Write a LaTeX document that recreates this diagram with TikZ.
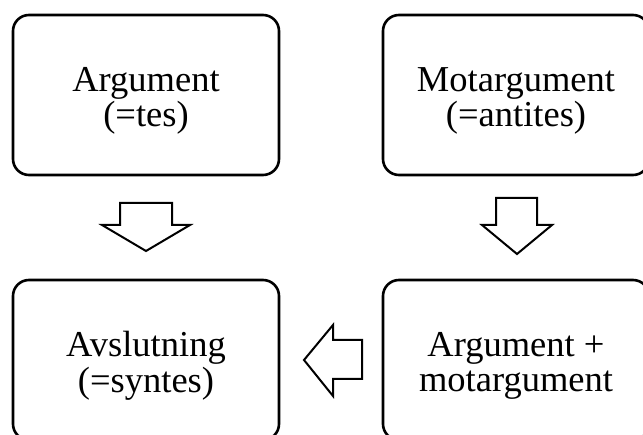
\documentclass[tikz,border=0pt]{standalone}
\usepackage{fontspec}
\setmainfont{Liberation Serif}
\begin{document}
\begin{tikzpicture}[x=1pt,y=-1pt,
  stepbox/.style={draw=black, line width=2.6pt, rounded corners=16pt,
    minimum width=266pt, minimum height=160pt, inner sep=0pt},
  boxtext/.style={align=center, inner sep=0pt,
    font=\fontsize{36.5}{35.5}\selectfont},
  blockarrow/.style={draw=black, line width=2pt, fill=white, line join=miter}]
\useasboundingbox (0,0) rectangle (643,435);
\clip (0,0) rectangle (643,435);
% boxes
\node[stepbox] (tl) at (146,95) {};
\node[stepbox] (tr) at (516,95) {};
\node[stepbox] (bl) at (146,360) {};
\node[stepbox] (br) at (516,360) {};
% texts
\node[boxtext] (tlt) at (146,101) {Argument\\(=tes)};
\node[boxtext] (trt) at (516,101) {Motargument\\(=antites)};
\node[boxtext] (blt) at (146,366) {Avslutning\\(=syntes)};
\node[boxtext] (brt) at (516,366) {Argument +\\motargument};
% block arrows
\draw[blockarrow] (120,203) -- (172,203) -- (172,225) -- (190,225) -- (146,251)
  -- (102,225) -- (120,225) -- cycle;
\draw[blockarrow] (496,198) -- (537,198) -- (537,225) -- (552,225) -- (517,254)
  -- (482,225) -- (496,225) -- cycle;
\draw[blockarrow] (362,340) -- (362,379) -- (333,379) -- (333,396) -- (304,360)
  -- (333,325) -- (333,340) -- cycle;
\end{tikzpicture}
\end{document}
